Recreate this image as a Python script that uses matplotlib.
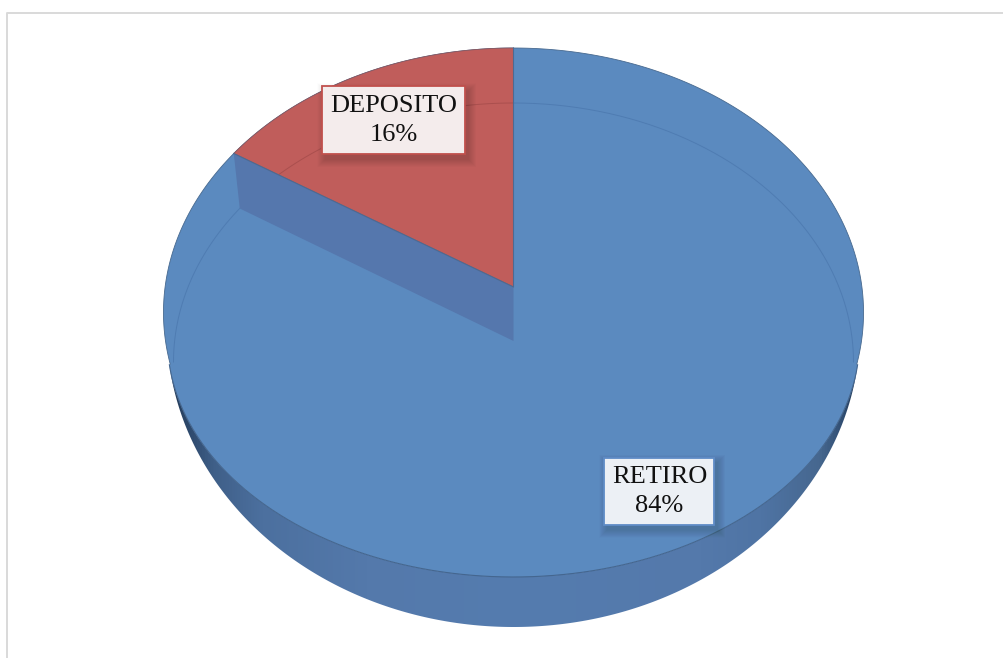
import numpy as np
import matplotlib
matplotlib.use("Agg")
import matplotlib.pyplot as plt
from matplotlib.patches import Polygon, Rectangle
from matplotlib.colors import LinearSegmentedColormap

categories = ["RETIRO", "DEPOSITO"]
shares = [84, 16]
label_texts = ["RETIRO\n84%", "DEPOSITO\n16%"]

BLUE = "#5B8ABF"
RED = "#C05D5B"
FACET = "#5577AD"
EDGE = "#47698F"

W, H = 1004, 658
fig = plt.figure(figsize=(W / 100, H / 100), dpi=100, facecolor="white")
ax = fig.add_axes([0, 0, 1, 1])

# Perspective projection of the pie plane, in screen pixels.
CX, APEX_Y = 513.5, 287.0
K, P, A = 262.0, 0.0963, 348.4


def project(theta):
    """Angle clockwise from twelve o'clock (radians) to screen coordinates."""
    u, v = np.sin(theta), np.cos(theta)
    d = 1 + P * v
    return CX + A * u / d, APEX_Y - K * v / d


def ellipse(cy, a, b, t):
    return CX + a * np.sin(t), cy - b * np.cos(t)


def xy(x, y):
    return np.column_stack([x, y])


full = np.linspace(0, 2 * np.pi, 721)
disc_x, disc_y = project(full)

# Top face of the larger share.
ax.add_patch(Polygon(xy(disc_x, disc_y), fc=BLUE, ec=EDGE, lw=0.6, zorder=2))

# Front rim where the top face meets the side.
front = np.linspace(np.radians(96), np.radians(264), 300)
rim_x, rim_y = ellipse(340.0, 346.0, 237.0, front)
rim = xy(rim_x, rim_y)
ax.add_patch(Polygon(np.vstack([rim, [[CX, 300.0]]]), fc=BLUE, ec="none", zorder=2.1))
ax.plot(rim_x, rim_y, color="#44668F", lw=0.8, zorder=3)

# Slab side: band between the rim and the lower silhouette, with a shading ramp.
under_x, under_y = ellipse(330.0, 346.5, 297.0, front)
band = Polygon(np.vstack([xy(under_x, under_y), rim[::-1]]), closed=True, fc="none", ec="none")
ax.add_patch(band)
side_cmap = LinearSegmentedColormap.from_list(
    "side",
    [(0.0, "#1C2F4A"), (0.025, "#2A4465"), (0.07, "#3F5F88"), (0.14, "#4C709F"),
     (0.29, "#5479AB"), (0.50, "#557CAF"), (0.77, "#5479AB"), (0.855, "#4F74A4"),
     (0.94, "#46678F"), (0.975, "#2F4C70"), (1.0, "#1C2F4A")],
)
ramp = ax.imshow(np.linspace(0, 1, 512)[None, :], cmap=side_cmap, aspect="auto",
                 extent=(164, 863, 640, 300), zorder=2.5)
ramp.set_clip_path(band)

# Recessed slice: its floor and the exposed wall below it.
slice_end = 2 * np.pi * shares[1] / sum(shares)
arc_x, arc_y = project(np.linspace(-slice_end, 0, 120))
apex = (CX, APEX_Y)
ax.add_patch(Polygon(np.vstack([[apex], xy(arc_x, arc_y)]),
                     fc=RED, ec="#8A5A62", lw=0.6, zorder=4))

WALL_DROP = 54.0
edge_x, edge_y = project(-slice_end)
wall = [(edge_x, edge_y), apex, (CX, APEX_Y + WALL_DROP),
        (edge_x + 6.0, edge_y + WALL_DROP + 1.0)]
ax.add_patch(Polygon(wall, fc=FACET, ec="none", zorder=4))
ax.plot([edge_x, CX, CX], [edge_y, APEX_Y, 48.0], color="#4D6A92", lw=0.8, zorder=5)

# Bevel line on the top face.
bx, by = ellipse(362.0, 340.0, 259.0, np.linspace(np.radians(-43.5), 0, 80))
ax.plot(bx, by, color="#AA4F4E", lw=0.7, zorder=4.5)
bx, by = ellipse(362.0, 340.0, 259.0, np.linspace(0, np.radians(90), 200))
ax.plot(bx, by, color="#4F7CB2", lw=0.7, zorder=3)
bx, by = ellipse(362.0, 340.0, 259.0, np.linspace(np.radians(-90), np.radians(-52.4), 100))
ax.plot(bx, by, color="#4F7CB2", lw=0.7, zorder=3)

# Chart frame, open at the right and bottom image borders.
ax.plot([7, 7, W + 2], [H + 2, 12.5, 12.5], color="#D9D9D9", lw=1.4, zorder=6)

# Data labels with a soft drop shadow.
label_boxes = {
    "RETIRO": (604.5, 457.5, 110, 67, "#ECF0F5", "#5F8CC6"),
    "DEPOSITO": (322.5, 86, 143, 68, "#F4ECEC", "#C0504D"),
}
for name, text in zip(categories, label_texts):
    x, y, w, h, face, border = label_boxes[name]
    for grow in range(16, 0, -1):
        ax.add_patch(Rectangle((x + 3 - grow / 2, y + 5 - grow / 2), w + grow, h + grow,
                               fc="black", ec="none", alpha=0.009, zorder=7))
    ax.add_patch(Rectangle((x, y), w, h, fc=face, ec=border, lw=1.3, zorder=8))
    ax.text(x + w / 2, y + h / 2 + 0.5, text, family="Liberation Serif", fontsize=19,
            color="#111111", ha="center", va="center", linespacing=1.36, zorder=9)

ax.set_xlim(0, W)
ax.set_ylim(H, 0)
ax.axis("off")

fig.savefig("out.png", dpi=100, facecolor="white")
